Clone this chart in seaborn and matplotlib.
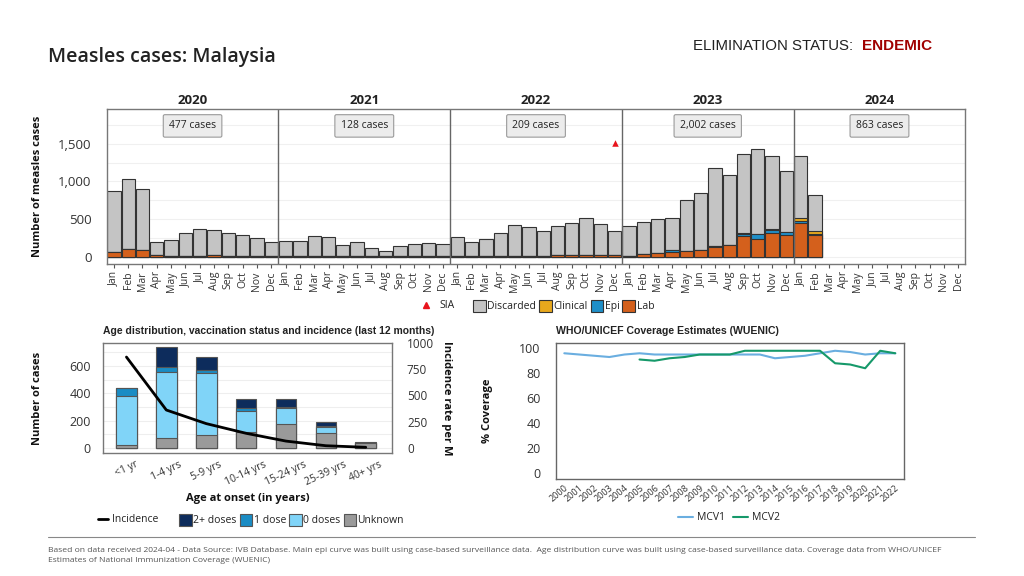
import numpy as np
import pandas as pd
import matplotlib
matplotlib.use("Agg")
import matplotlib.pyplot as plt
import seaborn as sns
from matplotlib.patches import Patch
from matplotlib.lines import Line2D
from matplotlib.ticker import FuncFormatter

# ---- data ----
years = [2020, 2021, 2022, 2023, 2024]
months = ['Jan', 'Feb', 'Mar', 'Apr', 'May', 'Jun', 'Jul', 'Aug', 'Sep', 'Oct', 'Nov', 'Dec']
year_cases = ['477 cases', '128 cases', '209 cases', '2,002 cases', '863 cases']

# monthly counts Jan 2020 .. Feb 2024
lab = [66, 98, 85, 18, 12, 15, 15, 22, 10, 14, 12, 12,
       8, 6, 15, 14, 6, 8, 5, 4, 5, 6, 6, 6,
       8, 5, 6, 8, 14, 12, 10, 22, 24, 26, 22, 18,
       5, 36, 49, 60, 71, 89, 136, 157, 270, 239, 318, 288,
       447, 283]
epi = [0] * 36 + [0, 0, 0, 25, 0, 0, 2, 2, 35, 60, 40, 35,
                  30, 22]
clinical = [0] * 36 + [0, 2, 2, 5, 2, 2, 2, 2, 8, 6, 8, 8,
                       36, 32]
discarded = [809, 928, 808, 181, 213, 295, 356, 328, 300, 269, 232, 178,
             196, 198, 255, 243, 153, 182, 114, 76, 141, 158, 171, 162,
             253, 194, 233, 302, 402, 378, 327, 389, 419, 491, 412, 319,
             398, 418, 449, 423, 683, 749, 1032, 918, 1045, 1123, 965, 805,
             818, 477]
sia_period = 'Dec 2022'
sia_level = 1510

age_groups = ['<1 yr', '1-4 yrs', '5-9 yrs', '10-14 yrs', '15-24 yrs', '25-39 yrs', '40+ yrs']
unknown = [20, 73, 95, 115, 178, 107, 37]
zero_dose = [358, 483, 454, 156, 112, 49, 0]
one_dose = [59, 39, 24, 24, 10, 4, 0]
two_plus = [0, 142, 93, 64, 56, 30, 9]
incidence = [864, 361, 232, 140, 66, 22, 7]

cov_years = list(range(2000, 2023))
mcv1 = [96, 95, 94, 93, 95, 96, 95, 95, 95, 95, 95, 95, 95, 95, 92, 93, 94, 96, 98, 97, 95, 96, 96]
mcv2 = [np.nan] * 5 + [91, 90, 92, 93, 95, 95, 95, 98, 98, 98, 98, 98, 98, 88, 87, 84, 98, 96]

# colours
c_disc, c_clin, c_epi, c_lab = '#c4c4c4', '#e8a81c', '#1f8fc8', '#d4601c'
c_two, c_one, c_zero, c_unk = '#0d2c5c', '#1a8cc4', '#80d4f8', '#9a9a9a'
c_mcv1, c_mcv2 = '#6aaee0', '#16996a'
edge = '#333333'

sns.set_style('white')
plt.rcParams['font.family'] = ['Open Sans', 'DejaVu Sans']
plt.rcParams['text.color'] = '#222222'
plt.rcParams['axes.labelcolor'] = '#111111'
plt.rcParams['xtick.color'] = '#333333'
plt.rcParams['ytick.color'] = '#333333'

fig = plt.figure(figsize=(10.24, 5.76), dpi=100)

# ---- main epi curve ----
periods = [f'{m} {y}' for y in years for m in months]
epi_df = pd.DataFrame({'period': periods[:len(lab)], 'lab': lab, 'epi': epi,
                       'clinical': clinical, 'discarded': discarded})
epi_df['c1'] = epi_df['lab']
epi_df['c2'] = epi_df['c1'] + epi_df['epi']
epi_df['c3'] = epi_df['c2'] + epi_df['clinical']
epi_df['c4'] = epi_df['c3'] + epi_df['discarded']

ax = fig.add_axes([0.1042, 0.5411, 0.8385, 0.2691])
for col, colr in [('c4', c_disc), ('c3', c_clin), ('c2', c_epi), ('c1', c_lab)]:
    sns.barplot(data=epi_df, x='period', y=col, order=periods, color=colr, saturation=1,
                edgecolor=edge, linewidth=0.8, width=0.93, errorbar=None, ax=ax)
sns.scatterplot(x=[sia_period], y=[sia_level], marker='^', color='#e8141c', s=22,
                linewidth=0, ax=ax)

ax.set_xlim(-0.5, len(periods) - 0.5)
ax.set_ylim(-100, 1955)
ax.set_yticks([0, 500, 1000, 1500])
ax.set_yticks(np.arange(250, 1900, 250), minor=True)
ax.yaxis.set_major_formatter(FuncFormatter(lambda v, p: f'{int(v):,}'))
ax.grid(axis='y', which='both', color='#f0f0f0', lw=0.8)
ax.set_axisbelow(True)
ax.set_xticks(range(len(periods)))
ax.set_xticklabels(months * len(years), rotation=90, fontsize=7.5)
ax.tick_params(axis='x', length=3, width=0.8, pad=2, color='#555555', bottom=True)
ax.tick_params(axis='y', which='both', length=0, pad=11, labelsize=9.5)
ax.set_xlabel('')
ax.set_ylabel('Number of measles cases', fontsize=8, fontweight='bold')
ax.yaxis.set_label_coords(-0.074, 0.5)
for s in ax.spines.values():
    s.set_color('#777777')
    s.set_linewidth(1)
for k, (yr, lbl) in enumerate(zip(years, year_cases)):
    mid = k * len(months) + (len(months) - 1) / 2
    if k > 0:
        ax.axvline(k * len(months) - 0.5, color='#666666', lw=1)
    ax.text(mid, 1.06, str(yr), transform=ax.get_xaxis_transform(), ha='center',
            va='center', fontsize=9.5, fontweight='bold')
    ax.text(mid, 1735, lbl, ha='center', va='center', fontsize=7.5,
            bbox=dict(boxstyle='round,pad=0.55,rounding_size=0.15', fc='#ececec',
                      ec='#9a9a9a', lw=0.8))

# top legend
fig.legend(handles=[Line2D([], [], marker='^', color='#e8141c', ls='', markersize=5)],
           labels=['SIA'], loc='center left', bbox_to_anchor=(416 / 1024, 1 - 306 / 576),
           frameon=False, fontsize=7.5, handletextpad=0.3, borderpad=0, borderaxespad=0)
fig.legend(handles=[Patch(fc=c, ec=edge, lw=0.8) for c in [c_disc, c_clin, c_epi, c_lab]],
           labels=['Discarded', 'Clinical', 'Epi', 'Lab'], ncol=4, loc='center left',
           bbox_to_anchor=(473 / 1024, 1 - 306 / 576), frameon=False, fontsize=7.5,
           handlelength=1.2, handleheight=1.5, handletextpad=0.15, columnspacing=0.3,
           borderpad=0, borderaxespad=0)

# ---- age distribution ----
age_df = pd.DataFrame({'age': age_groups, 'unknown': unknown, 'zero': zero_dose,
                       'one': one_dose, 'two': two_plus, 'incidence': incidence})
age_df['s1'] = age_df['unknown']
age_df['s2'] = age_df['s1'] + age_df['zero']
age_df['s3'] = age_df['s2'] + age_df['one']
age_df['s4'] = age_df['s3'] + age_df['two']

ax2 = fig.add_axes([0.1009, 0.2130, 0.2816, 0.1920])
for col, colr in [('s4', c_two), ('s3', c_one), ('s2', c_zero), ('s1', c_unk)]:
    sns.barplot(data=age_df, x='age', y=col, order=age_groups, color=colr, saturation=1,
                edgecolor='#555555', linewidth=0.8, width=0.52, errorbar=None, ax=ax2)
ax2.set_ylim(-38, 770)
ax2.set_yticks([0, 200, 400, 600])
ax2.set_yticks([100, 300, 500, 700], minor=True)
ax2.grid(axis='y', which='both', color='#eeeeee', lw=0.8)
ax2.set_axisbelow(True)
ax2.set_xlim(-0.58, 6.65)
ax2.tick_params(axis='y', which='both', length=0, pad=9, labelsize=9)
ax2.tick_params(axis='x', length=0, pad=4)
for lab_ in ax2.get_xticklabels():
    lab_.set_rotation(25)
    lab_.set_fontsize(7.5)
ax2.set_ylabel('Number of cases', fontsize=8, fontweight='bold')
ax2.yaxis.set_label_coords(-0.209, 0.5)
ax2.set_xlabel('Age at onset (in years)', fontsize=8, fontweight='bold')
ax2.xaxis.set_label_coords(0.5, -0.36)
ax2.set_title('Age distribution, vaccination status and incidence (last 12 months)',
              loc='left', fontsize=7.5, fontweight='bold', family='Liberation Sans', pad=6)
for s in ax2.spines.values():
    s.set_color('#777777')
    s.set_linewidth(1)

ax3 = ax2.twinx()
sns.pointplot(data=age_df, x='age', y='incidence', order=age_groups, color='black',
              markers='', linewidth=2, errorbar=None, ax=ax3)
ax3.set_xlim(-0.58, 6.65)
ax3.set_ylim(-50, 1000)
ax3.set_yticks([0, 250, 500, 750, 1000])
ax3.tick_params(axis='y', length=0, pad=11, labelsize=8.5)
ax3.set_ylabel('Incidence rate per M', fontsize=8, fontweight='bold', rotation=270)
ax3.yaxis.set_label_coords(1.208, 0.5)
ax3.grid(False)
for s in ax3.spines.values():
    s.set_visible(False)

fig.legend(handles=[Line2D([], [], color='black', lw=2)], labels=['Incidence'],
           loc='center left', bbox_to_anchor=(98 / 1024, 1 - 520 / 576), frameon=False,
           fontsize=7.5, handlelength=1.0, handletextpad=0.3, borderpad=0, borderaxespad=0)
fig.legend(handles=[Patch(fc=c, ec='#555555', lw=0.8) for c in [c_two, c_one, c_zero, c_unk]],
           labels=['2+ doses', '1 dose', '0 doses', 'Unknown'], ncol=4, loc='center left',
           bbox_to_anchor=(179 / 1024, 1 - 520 / 576), frameon=False, fontsize=7.5,
           handlelength=1.2, handleheight=1.5, handletextpad=0.15, columnspacing=0.3,
           borderpad=0, borderaxespad=0)

# ---- coverage ----
cov_df = pd.DataFrame({'year': cov_years * 2,
                       'coverage': mcv1 + mcv2,
                       'vaccine': ['MCV1'] * len(cov_years) + ['MCV2'] * len(cov_years)})
ax4 = fig.add_axes([0.5430, 0.1679, 0.3401, 0.2372])
sns.lineplot(data=cov_df, x='year', y='coverage', hue='vaccine', estimator=None,
             palette={'MCV1': c_mcv1, 'MCV2': c_mcv2}, linewidth=1.5, legend=False, ax=ax4)
ax4.set_xlim(1999.45, 2022.6)
ax4.set_ylim(-5, 104.5)
ax4.set_yticks([0, 20, 40, 60, 80, 100])
ax4.set_xticks(cov_years)
ax4.set_xticklabels([str(y) for y in cov_years], rotation=40, ha='right',
                    rotation_mode='anchor', fontsize=6.5)
ax4.tick_params(axis='y', length=0, pad=11, labelsize=9)
ax4.tick_params(axis='x', length=0, pad=3)
ax4.set_xlabel('')
ax4.set_ylabel('% Coverage', fontsize=8, fontweight='bold')
ax4.yaxis.set_label_coords(-0.181, 0.5)
ax4.set_title('WHO/UNICEF Coverage Estimates (WUENIC)', loc='left', fontsize=7.6,
              fontweight='bold', family='Liberation Sans', pad=6)
for s in ax4.spines.values():
    s.set_color('#666666')
    s.set_linewidth(1)

fig.legend(handles=[Line2D([], [], color=c_mcv1, lw=1.5), Line2D([], [], color=c_mcv2, lw=1.5)],
           labels=['MCV1', 'MCV2'], ncol=2, loc='center left',
           bbox_to_anchor=(678 / 1024, 1 - 518 / 576), frameon=False, fontsize=7.5,
           handlelength=1.4, handletextpad=0.4, columnspacing=0.8, borderpad=0, borderaxespad=0)

# ---- header / footer ----
fig.text(48 / 1024, 1 - 57 / 576, 'Measles cases: Malaysia', fontsize=14,
         fontweight='semibold', va='center')
fig.text(693 / 1024, 1 - 46 / 576, 'ELIMINATION STATUS:', fontsize=10.8, va='center',
         family=['Liberation Sans Narrow', 'Liberation Sans'])
fig.text(862 / 1024, 1 - 46 / 576, 'ENDEMIC', fontsize=11, va='center', fontweight='bold',
         color='#a00000', family=['Liberation Sans Narrow', 'Liberation Sans'])
fig.add_artist(Line2D([48 / 1024, 975 / 1024], [1 - 537 / 576, 1 - 537 / 576],
                      color='#888888', lw=0.8))
fig.text(48 / 1024, 1 - 550 / 576,
         'Based on data received 2024-04 - Data Source: IVB Database. Main epi curve was built using '
         'case-based surveillance data.  Age distribution curve was built using case-based surveillance '
         'data. Coverage data from WHO/UNICEF', fontsize=6.1, color='#555555', va='center')
fig.text(48 / 1024, 1 - 560 / 576, 'Estimates of National Immunization Coverage (WUENIC)',
         fontsize=6.1, color='#555555', va='center')

fig.savefig('out.png', dpi=100)
